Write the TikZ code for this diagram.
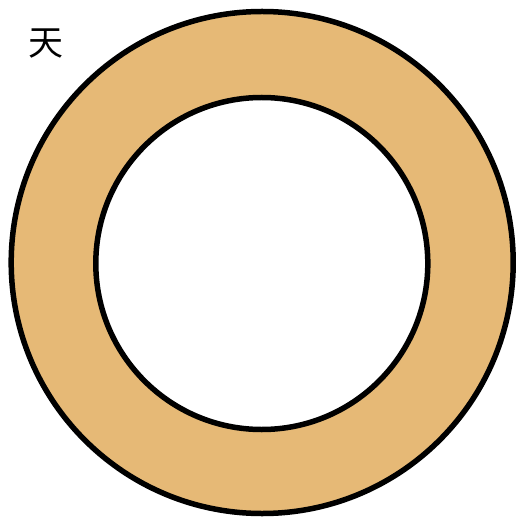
\documentclass[tikz,border=0pt]{standalone}
\usepackage{fontspec}
\newfontfamily\cjk{Noto Sans CJK SC}
\definecolor{ringtan}{RGB}{230,185,118}
\tikzset{ringline/.style={line width=5.5pt, draw=black}}
\begin{document}
\begin{tikzpicture}[x=1pt,y=-1pt]
\useasboundingbox (0,0) rectangle (517,518);
\fill[ringtan, even odd rule] (262.2,262.5) circle (251) (261.8,263.5) circle (166);
\draw[ringline] (262.2,262.5) circle (251);
\draw[ringline] (261.8,263.5) circle (166);
\node[font=\cjk\fontsize{35}{35}\selectfont, inner sep=0pt] (tian) at (46,44) {天};
\end{tikzpicture}
\end{document}
